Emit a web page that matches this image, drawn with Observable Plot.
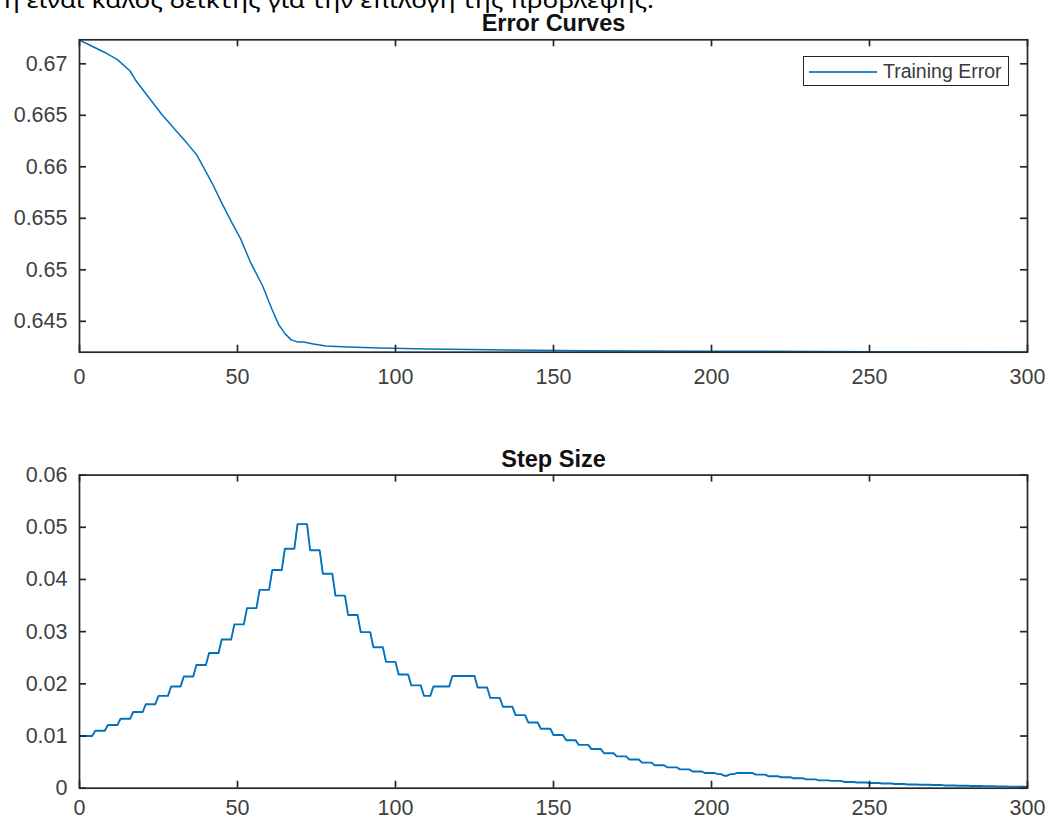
<!DOCTYPE html>
<html><head><meta charset="utf-8">
<script src="https://cdn.jsdelivr.net/npm/d3@7"></script>
<script src="https://cdn.jsdelivr.net/npm/@observablehq/plot@0.6"></script>
<style>
body{margin:0;background:#fff;}
#wrap{position:relative;width:1058px;height:821px;overflow:hidden;font-family:"Liberation Sans",Arial,sans-serif;}
.abs{position:absolute;left:0;}
#legend{position:absolute;left:803px;top:56px;width:204px;height:28px;border:1.6px solid #262626;background:#fff;}
#legend .sw{position:absolute;left:5px;top:14px;width:68px;height:0;border-top:2px solid #2a86c8;}
#legend .lb{position:absolute;left:79px;top:3px;font-size:19.5px;line-height:22px;color:#3a3a3a;white-space:nowrap;}
</style></head>
<body><div id="wrap">
<div id="topPanel" class="abs" style="top:0"></div>
<div id="bottomPanel" class="abs" style="top:430px"></div>
<svg class="abs" style="top:0" width="1058" height="20"><text x="4" y="8" font-family="Noto Sans" font-size="22" fill="#000" textLength="650" lengthAdjust="spacingAndGlyphs">ή είναι καλός δείκτης για την επιλογή της πρόβλεψης.</text></svg>
<div id="legend"><span class="sw"></span><span class="lb"></span></div>
</div>
<script>
const errIter = [0,4,8,12,16,18,22,26,30,34,37,39,42,45,48,51,54,58,61,63,65,67,69,71,74,78,85,95,110,130,160,200,250,300];
const errValue = [0.6723,0.6717,0.6711,0.6704,0.6693,0.6683,0.6667,0.6651,0.6637,0.6623,0.6612,0.6601,0.6584,0.6565,0.6547,0.6530,0.6508,0.6484,0.6461,0.6447,0.6438,0.6432,0.6430,0.6430,0.6428,0.6426,0.6425,0.6424,0.6423,0.64223,0.64215,0.64210,0.64205,0.64202];
const stepIter = [0,5,9,13,17,21,25,29,33,37,41,45,49,53,57,61,65,69,73,77,81,85,89,93,97,101,105,109,112,118,126,130,134,138,142,146,150,154,158,162,166,170,174,178,182,186,190,194,198,202,204,206,208,214,218,222,226,230,234,238,242,246,250,254,258,262,266,270,274,278,282,286,290,294,298,300];
const stepValue = [0.0100,0.0110,0.0121,0.0133,0.0146,0.0161,0.0177,0.0195,0.0214,0.0236,0.0259,0.0285,0.0314,0.0345,0.0380,0.0418,0.0459,0.0506,0.0456,0.0411,0.0369,0.0332,0.0299,0.0270,0.0242,0.0218,0.0197,0.0177,0.0195,0.0215,0.0193,0.0173,0.0156,0.0140,0.0126,0.0114,0.0102,0.0092,0.0083,0.0075,0.0067,0.0061,0.0055,0.0049,0.0044,0.0040,0.0036,0.0032,0.0029,0.0027,0.0024,0.0027,0.0029,0.0026,0.0023,0.0021,0.0019,0.0017,0.0015,0.0014,0.0012,0.0011,0.0010,0.0009,0.0008,0.0007,0.00066,0.0006,0.00053,0.00048,0.00043,0.00039,0.00035,0.00031,0.00028,0.00028];
const xTicks = [0,50,100,150,200,250,300];
const errTicks = [0.645,0.65,0.655,0.66,0.665,0.67];
const stepTicks = [0,0.01,0.02,0.03,0.04,0.05,0.06];
const titles = ["Error Curves","Step Size"];
const legendLabel = "Training Error";

const AX = "#262626", LBL = "#404040", BLUE = "#0072BD";

// per-iteration plot: the value is held until the iteration before each change
function heldPoints(xs, ys) {
  const pts = [{it: xs[0], v: ys[0]}];
  for (let i = 1; i < xs.length; i++) {
    if (xs[i] - 1 > xs[i - 1]) pts.push({it: xs[i] - 1, v: ys[i - 1]});
    pts.push({it: xs[i], v: ys[i]});
  }
  return pts;
}

function panel({data, yDomain, yTicks, title, height, mt, mb, pad, sw}) {
  const ml = 79, mr = 31, W = 1058 - ml - mr, H = height - mt - mb;
  return Plot.plot({
    width: 1058, height, marginLeft: ml, marginRight: mr, marginTop: mt, marginBottom: mb,
    style: {background: "transparent", fontFamily: "'Liberation Sans', Arial, sans-serif", fontSize: "21.5px", color: AX, overflow: "visible"},
    x: {domain: [0, 300], label: null},
    y: {domain: yDomain, label: null},
    marks: [
      Plot.line(data, {x: "it", y: "v", curve: "linear", stroke: BLUE, strokeWidth: sw, strokeLinejoin: "round"}),
      Plot.frame({stroke: AX, strokeWidth: 1.7}),
      Plot.tickX(xTicks, {x: d => d, insetTop: H - 7, stroke: AX, strokeWidth: 1.7}),
      Plot.tickX(xTicks, {x: d => d, insetBottom: H - 7, stroke: AX, strokeWidth: 1.7}),
      Plot.tickY(yTicks, {y: d => d, insetRight: W - 7, stroke: AX, strokeWidth: 1.7}),
      Plot.tickY(yTicks, {y: d => d, insetLeft: W - 7, stroke: AX, strokeWidth: 1.7}),
      Plot.axisX(xTicks, {tickSize: 0, tickPadding: pad, fontSize: 21.5, fill: LBL, tickFormat: d => String(d)}),
      Plot.axisY(yTicks, {tickSize: 0, tickPadding: 12, fontSize: 21.5, fill: LBL, tickFormat: d => String(d)}),
      Plot.text([title], {text: d => d, frameAnchor: "top", dy: -8.5, lineAnchor: "bottom", fontWeight: "bold", fontSize: 23.5, fill: "#111"})
    ]
  });
}

document.getElementById("topPanel").append(panel({
  data: errIter.map((x, i) => ({it: x, v: errValue[i]})),
  yDomain: [0.6420, 0.67233], yTicks: errTicks,
  title: titles[0], height: 400, mt: 39.3, mb: 48.3, pad: 17, sw: 1.5
}));
document.getElementById("bottomPanel").append(panel({
  data: heldPoints(stepIter, stepValue),
  yDomain: [0, 0.06], yTicks: stepTicks,
  title: titles[1], height: 391, mt: 44.6, mb: 33.3, pad: 12, sw: 1.9
}));
document.querySelector("#legend .lb").textContent = legendLabel;
</script>
</body></html>
